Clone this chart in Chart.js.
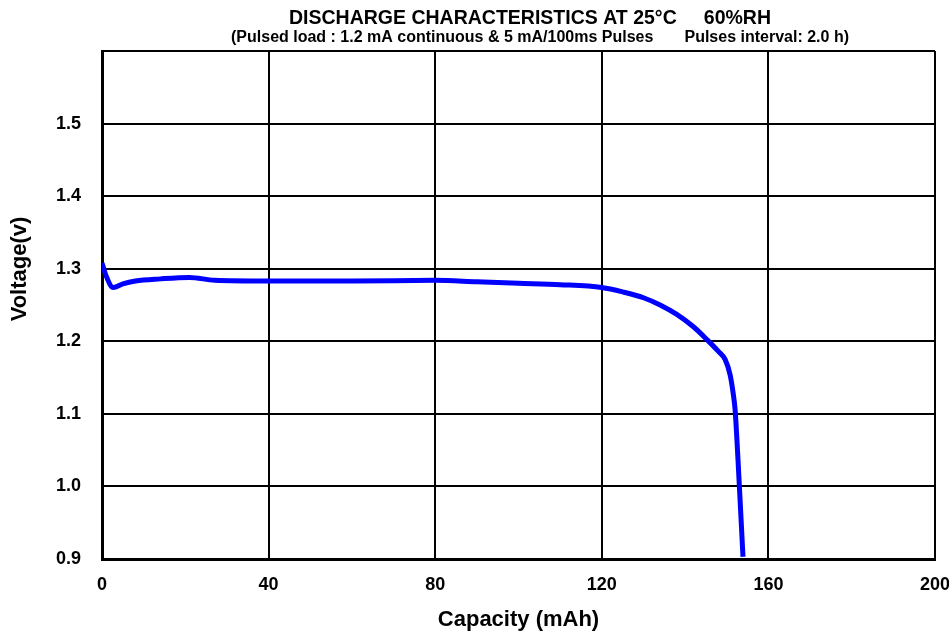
<!DOCTYPE html>
<html>
<head>
<meta charset="utf-8">
<script src="https://cdn.jsdelivr.net/npm/chart.js@4/dist/chart.umd.min.js"></script>
<style>
  html, body { margin: 0; padding: 0; background: #fff; }
  #wrap { width: 949px; height: 633px; }
</style>
</head>
<body>
<div id="wrap"><canvas id="myChart"></canvas></div>
<script>
// capacity (mAh) and voltage (V)
var capacity = [0, 1, 2.7, 5, 8, 14, 21, 27, 40, 60, 80, 90, 100, 110, 120, 125, 130, 134, 138, 142, 145.3, 148, 149.6, 150.8, 151.5, 152, 152.7, 153.3, 153.9];
var voltage  = [1.308, 1.290, 1.274, 1.279, 1.283, 1.286, 1.288, 1.284, 1.283, 1.283, 1.284, 1.282, 1.280, 1.278, 1.274, 1.268, 1.260, 1.250, 1.237, 1.220, 1.202, 1.186, 1.175, 1.154, 1.130, 1.106, 1.037, 0.970, 0.903];
var xTicks = [0, 40, 80, 120, 160, 200];
var yTicks = [0.9, 1.0, 1.1, 1.2, 1.3, 1.4, 1.5];

var titleText = 'DISCHARGE CHARACTERISTICS AT 25°C     60%RH';
var subtitleText = '(Pulsed load : 1.2 mA continuous & 5 mA/100ms Pulses       Pulses interval: 2.0 h)';
var FONT = '"Liberation Sans", Arial, sans-serif';

var points = capacity.map(function(c, i) { return { x: c, y: voltage[i] }; });

var textPlugin = {
    id: 'texts',
    afterDraw: function(chart) {
        var ctx = chart.ctx;
        ctx.save();
        ctx.fillStyle = '#000';
        ctx.textAlign = 'center';
        ctx.textBaseline = 'middle';
        ctx.font = 'bold 19.5px ' + FONT;
        ctx.fillText(titleText, 530, 19);
        ctx.font = 'bold 16px ' + FONT;
        ctx.fillText(subtitleText, 540, 38);
        ctx.translate(20, 269);
        ctx.rotate(-Math.PI / 2);
        ctx.font = 'bold 22px ' + FONT;
        ctx.fillText('Voltage(v)', 0, 0);
        ctx.restore();
    }
};

var ctx = document.getElementById('myChart').getContext('2d');
var myChart = new Chart(ctx, {
    type: 'line',
    data: {
        datasets: [{
            label: 'Voltage',
            data: points,
            borderColor: '#0000ff',
            borderWidth: 5,
            pointRadius: 0,
            fill: false,
            cubicInterpolationMode: 'monotone'
        }]
    },
    options: {
        responsive: true,
        maintainAspectRatio: false,
        animation: false,
        layout: { padding: { top: 51, right: 0, left: 0, bottom: 0 } },
        plugins: {
            legend: { display: false },
            tooltip: { enabled: false }
        },
        scales: {
            x: {
                type: 'linear',
                min: 0,
                max: 200,
                afterBuildTicks: function(scale) {
                    scale.ticks = xTicks.map(function(v) { return { value: v }; });
                },
                afterFit: function(scale) {
                    scale.height = 74;
                    scale.paddingLeft = 0;
                    scale.paddingRight = 14;
                },
                grid: { color: '#000', lineWidth: 2, drawTicks: false },
                border: { color: '#000', width: 3 },
                ticks: {
                    color: '#000',
                    padding: 15,
                    font: { family: FONT, size: 18, weight: 'bold' }
                },
                title: {
                    display: true,
                    text: 'Capacity (mAh)',
                    color: '#000',
                    font: { family: FONT, size: 22, weight: 'bold' },
                    padding: { top: 4, bottom: 0 }
                }
            },
            y: {
                min: 0.9,
                max: 1.6,
                afterBuildTicks: function(scale) {
                    scale.ticks = yTicks.concat([1.6]).map(function(v) { return { value: v }; });
                },
                afterFit: function(scale) { scale.width = 102; },
                grid: { color: '#000', lineWidth: 2, drawTicks: false },
                border: { color: '#000', width: 3 },
                ticks: {
                    color: '#000',
                    padding: 21,
                    font: { family: FONT, size: 18, weight: 'bold' },
                    callback: function(v) { return v > 1.55 ? '' : v.toFixed(1); }
                }
            }
        }
    },
    plugins: [textPlugin]
});
</script>
</body>
</html>
